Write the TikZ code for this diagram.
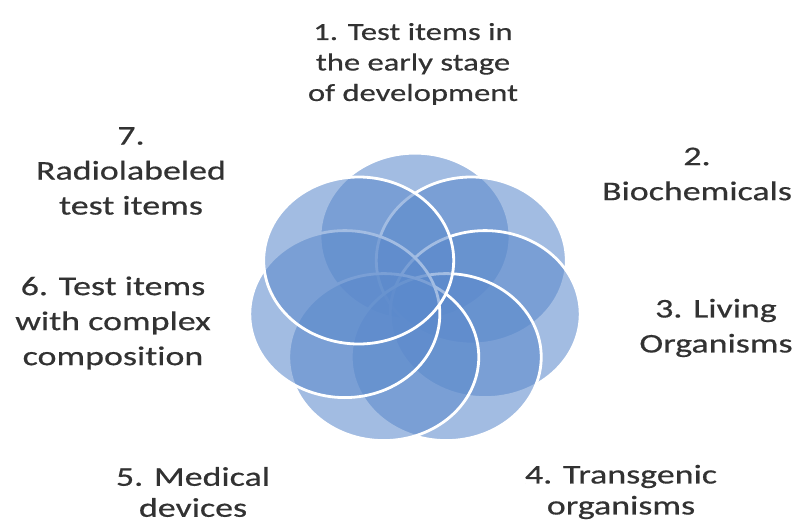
\documentclass[tikz,border=0pt]{standalone}
\usepackage{fontspec}
\setmainfont{Carlito}[FakeStretch=1.33, FakeBold=0.5, Ligatures=NoCommon]
\usetikzlibrary{shapes.geometric}
\definecolor{petal}{RGB}{92,138,204}
\definecolor{labeltext}{RGB}{50,50,50}
\begin{document}
\begin{tikzpicture}[x=1pt,y=-1pt,
  petalnode/.style={ellipse, inner sep=0pt, minimum width=190pt, minimum height=167pt,
    fill=petal, fill opacity=0.57, draw=white, line width=2.8pt},
  caption/.style={align=center, text=labeltext, inner sep=0pt, font=\fontsize{27}{35}\selectfont}]
\useasboundingbox (0,0) rectangle (798,525);
\fill[white] (0,0) rectangle (798,525);
% seven overlapping petals around the centre, drawn clockwise from the top
\foreach \k in {1,...,7}{
  \pgfmathsetmacro{\ang}{90-51.4286*(\k-1)}
  \node[petalnode] (c\k) at ({415+72*cos(\ang)},{300-0.88*72*sin(\ang)}) {};
}
% labels
\node[caption, font=\fontsize{24.5}{30.5}\selectfont] (t1) at (413,64) {1. Test items in\\the early stage\\of development};
\node[caption] (t2) at (697,174) {2.\\Biochemicals};
\node[caption] (t3) at (716,328) {3. Living\\Organisms};
\node[caption, font=\fontsize{27}{31}\selectfont] (t4) at (621,492) {4. Transgenic\\organisms};
\node[caption, font=\fontsize{27}{31}\selectfont] (t5) at (193,492) {5. Medical\\devices};
\node[caption] (t6) at (113,323) {6. Test items\\with complex\\composition};
\node[caption] (t7) at (131,171) {7.\\Radiolabeled\\test items};
\end{tikzpicture}
\end{document}
